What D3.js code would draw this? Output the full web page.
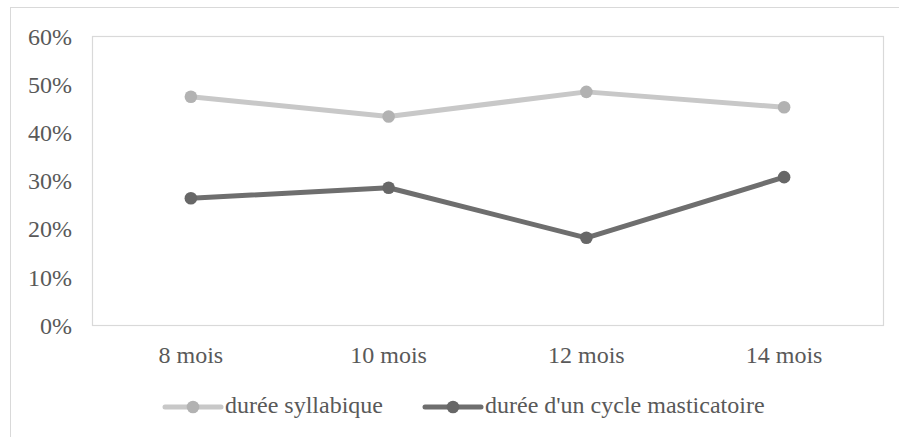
<!DOCTYPE html>
<html>
<head>
<meta charset="utf-8">
<script src="https://cdn.jsdelivr.net/npm/d3@7/dist/d3.min.js"></script>
<style>
  html, body { margin: 0; padding: 0; background: #fff; }
  svg { display: block; }
</style>
</head>
<body>
<svg id="chart" width="899" height="437"></svg>
<script>
const categories = ["8 mois", "10 mois", "12 mois", "14 mois"];
const syllabique = [0.474, 0.433, 0.484, 0.452];
const masticatoire = [0.263, 0.285, 0.181, 0.307];
const yTicks = [0, 0.1, 0.2, 0.3, 0.4, 0.5, 0.6];
const seriesNames = ["durée syllabique", "durée d'un cycle masticatoire"];

const FONT = "Liberation Serif, Times New Roman, Times, DejaVu Serif, serif";
const FS = 24;

const series = [
  { name: seriesNames[0], values: syllabique, line: "#c8c8c8", marker: "#b2b2b2" },
  { name: seriesNames[1], values: masticatoire, line: "#6e6e6e", marker: "#676767" }
];

const svg = d3.select("#chart");
const W = 899, H = 437;
const plot = { left: 92, top: 36, right: 883, bottom: 325 };

svg.append("rect")
  .attr("x", 10.5).attr("y", 7.5)
  .attr("width", W + 20).attr("height", H + 20)
  .attr("fill", "#fff").attr("stroke", "#d9d9d9").attr("stroke-width", 1);

const x = d3.scaleBand().domain(categories).range([plot.left, plot.right]);
const y = d3.scaleLinear().domain([0, 0.6]).range([plot.bottom, plot.top]);

svg.append("rect")
  .attr("x", plot.left + 0.5).attr("y", plot.top + 0.5)
  .attr("width", plot.right - plot.left).attr("height", plot.bottom - plot.top)
  .attr("fill", "none").attr("stroke", "#d9d9d9").attr("stroke-width", 1.2);

const yAxis = d3.axisLeft(y).tickValues(yTicks).tickFormat(d3.format(".0%")).tickSize(0).tickPadding(0);
const yg = svg.append("g").attr("transform", `translate(72,0)`).call(yAxis)
  .attr("font-family", FONT).attr("font-size", FS);
yg.select(".domain").remove();
yg.selectAll("text").attr("fill", "#595959").attr("dy", "0.345em");

const xAxis = d3.axisBottom(x).tickSize(0).tickPadding(0);
const xg = svg.append("g").attr("transform", `translate(0,${plot.bottom})`).call(xAxis)
  .attr("font-family", FONT).attr("font-size", FS);
xg.select(".domain").remove();
xg.selectAll("text").attr("fill", "#595959").attr("dy", null).attr("y", 37.5);

const cx = c => x(c) + x.bandwidth() / 2;
const line = d3.line().x((d, i) => cx(categories[i])).y(d => y(d));

series.forEach(s => {
  svg.append("path").datum(s.values)
    .attr("d", line).attr("fill", "none")
    .attr("stroke", s.line).attr("stroke-width", 5).attr("stroke-linejoin", "round").attr("stroke-linecap", "round");
  svg.selectAll(null).data(s.values).enter().append("circle")
    .attr("cx", (d, i) => cx(categories[i])).attr("cy", d => y(d))
    .attr("r", 6.3).attr("fill", s.marker);
});

const legendY = 407;
const legendX = [165, 425];
series.forEach((s, i) => {
  const g = svg.append("g").attr("transform", `translate(${legendX[i]},${legendY})`);
  g.append("line").attr("x1", 0).attr("x2", 56).attr("y1", 0).attr("y2", 0)
    .attr("stroke", s.line).attr("stroke-width", 5).attr("stroke-linecap", "round");
  g.append("circle").attr("cx", 28).attr("cy", 0).attr("r", 6.3).attr("fill", s.marker);
  g.append("text").attr("x", 60).attr("y", 0).attr("dy", "0.25em")
    .attr("font-family", FONT).attr("font-size", FS).attr("fill", "#595959").text(s.name);
});
</script>
</body>
</html>
